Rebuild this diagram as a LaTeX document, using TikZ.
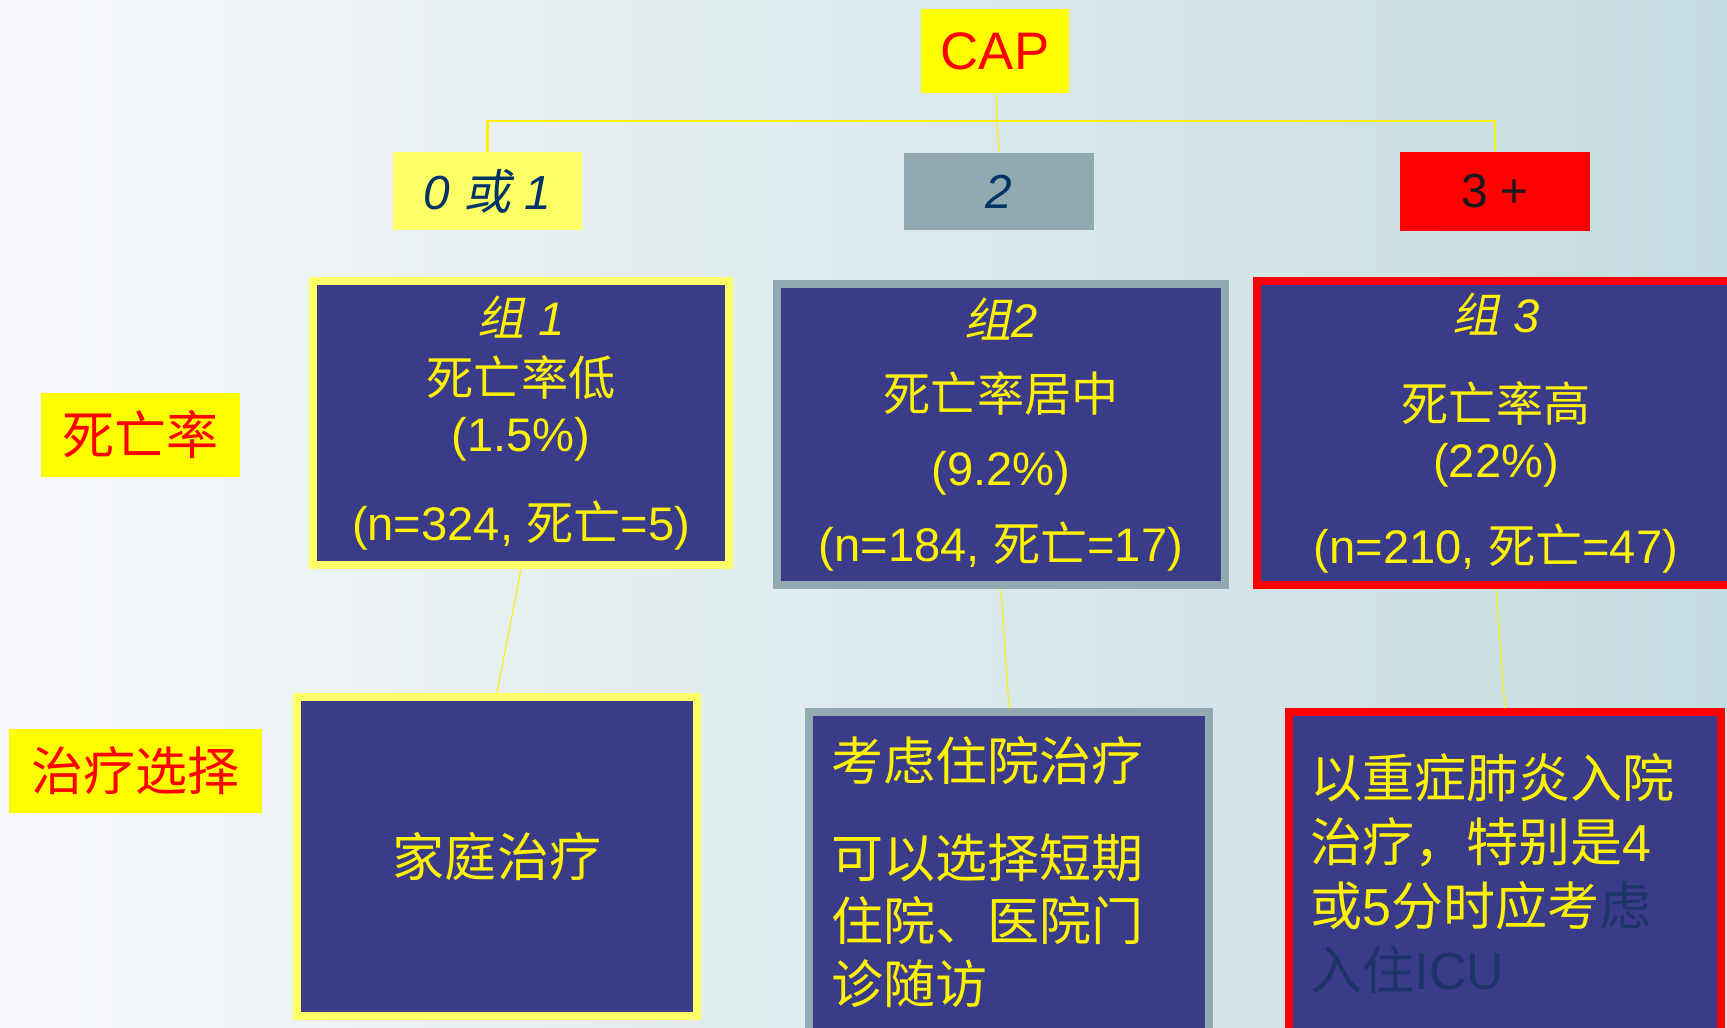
\documentclass[tikz,border=0pt]{standalone}
\usepackage{fontspec}
\setmainfont{Liberation Sans}
\newfontfamily\zh{Noto Sans CJK SC}
\newfontfamily\zhit[FakeSlant=0.2]{Noto Sans CJK SC}
\newcommand{\hz}[1]{{\zh#1}}
\newcommand{\hzi}[1]{{\zhit#1}}
\definecolor{capyellow}{HTML}{FFFF00}
\definecolor{paleyellow}{HTML}{FFFF66}
\definecolor{slate}{HTML}{91A9B1}
\definecolor{boxblue}{HTML}{3A3B89}
\definecolor{navytext}{HTML}{003366}
\definecolor{dimtext}{HTML}{1C3468}
\definecolor{bgleft}{HTML}{F7F8FB}
\definecolor{bgright}{HTML}{C4DDE0}

\begin{document}
\begin{tikzpicture}[x=0.01cm, y=-0.01cm,
    label/.style={fill=capyellow, text=red, inner sep=0pt, minimum height=0.84cm,
        font=\zh\fontsize{14.8}{18}\selectfont},
    score/.style={fill=#1, inner sep=0pt, minimum width=1.89cm, minimum height=0.77cm,
        font=\fontsize{13.6}{16}\selectfont},
    group/.style={draw=#1, line width=2.3pt, fill=boxblue, text=yellow, align=center,
        inner sep=0pt, font=\fontsize{13.4}{16}\selectfont},
    choice/.style={draw=#1, line width=2.3pt, fill=boxblue, inner sep=0pt,
        minimum width=4cm, minimum height=3.37cm},
    note/.style={text=yellow, align=left, inner sep=0pt, anchor=north west},
    branch/.style={draw=yellow, line width=0.6pt},
    link/.style={draw=yellow, line width=0.3pt}]
    \useasboundingbox (0,0) rectangle (1727,1028);
    \shade[left color=bgleft, right color=bgright] (0,0) rectangle (1727,1028);

    % score row
    \node[fill=capyellow, text=red, inner sep=0pt, minimum width=1.48cm, minimum height=0.84cm,
        font=\fontsize{15}{18}\selectfont] (cap) at (995,51) {CAP};
    \node[score=paleyellow, text=navytext] (s0) at (487.5,191) {\itshape 0 \hzi{或} 1};
    \node[score=slate, text=navytext] (s2) at (999,191.5) {\itshape 2};
    \node[score=red, text=black!90, minimum height=0.79cm] (s3) at (1495,191.5) {3 +};
    \coordinate (hub) at (997,121);
    \draw[link] (cap) -- (hub);
    \draw[branch] (s0) |- (hub) -| (s3);
    \draw[link] (hub) -- (s2.north);

    % row labels
    \node[label, minimum width=1.99cm] (rate) at (140.5,435) {死亡率};
    \node[label, minimum width=2.53cm] (treat) at (135.5,771) {治疗选择};

    % mortality groups
    \node[group=paleyellow, minimum width=4.16cm, minimum height=2.84cm] (g1) at (521,423)
        {{\itshape\hzi{组} 1}\\[1.2pt] \hz{死亡率低}\\ (1.5\%)\\[9.3pt] (n=324, \hz{死亡}=5)};
    \node[group=slate, minimum width=4.48cm, minimum height=3.01cm] (g2) at (1001,434.5)
        {{\itshape\hzi{组}2}\\[5pt] \hz{死亡率居中}\\[5pt] (9.2\%)\\[5.5pt] (n=184, \hz{死亡}=17)};
    \node[group=red, minimum width=4.78cm, minimum height=3.04cm] (g3) at (1496,433)
        {{\itshape\hzi{组} 3}\\[9.4pt] \hz{死亡率高}\\ (22\%)\\[8.5pt] (n=210, \hz{死亡}=47)};

    % treatment choices
    \node[choice=paleyellow, minimum height=3.19cm, text=yellow,
        font=\zh\fontsize{14.8}{18}\selectfont] (t1) at (497,856.5) {家庭治疗};
    \node[choice=slate] (t2) at (1009,881) {};
    \node[choice=red, minimum width=4.32cm] (t3) at (1505,881) {};
    \node[note, font=\zh\fontsize{14.8}{17.9}\selectfont] (t2txt) at (831,736)
        {考虑住院治疗\\[9.7pt] 可以选择短期\\ 住院、医院门\\ 诊随访};
    \node[note, font=\zh\fontsize{14.8}{18.2}\selectfont] (t3txt) at (1310,753)
        {以重症肺炎入院\\ 治疗，特别是{\rmfamily 4}\\
         或{\rmfamily 5}分时应考\textcolor{dimtext}{虑}\\ \textcolor{dimtext}{入住{\rmfamily ICU}}};

    \draw[link] (g1.south) -- (t1.north);
    \draw[link] (g2.south) -- (t2.north);
    \draw[link] (g3.south) -- (t3.north);
\end{tikzpicture}
\end{document}
